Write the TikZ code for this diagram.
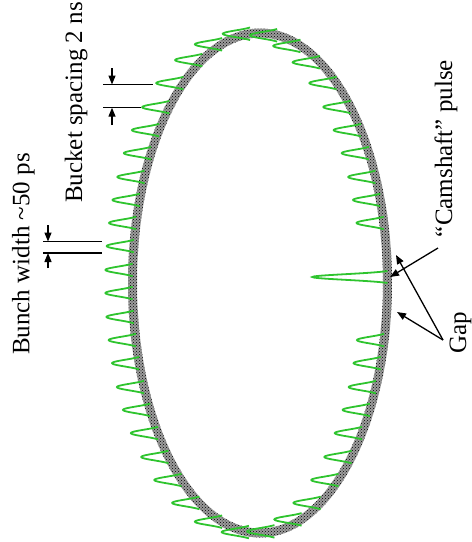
\documentclass[tikz,border=0pt]{standalone}
\usepackage{fontspec}
\setmainfont{Liberation Serif}
\usetikzlibrary{arrows.meta, patterns}
\definecolor{bunchgreen}{HTML}{2EC42E}
\definecolor{ringgray}{HTML}{9C9C9C}

\begin{document}
\begin{tikzpicture}[x=1pt, y=-1pt,
    lbl/.style={font=\fontsize{25}{30}\selectfont, rotate=90, inner sep=0pt, anchor=base},
    dim/.style={line width=1.3pt},
    tip/.style={-{Triangle[length=9pt, width=7pt]}, line width=1.3pt},
    bunch/.style={bunchgreen, line width=1.8pt}]
  \useasboundingbox (0,0) rectangle (472,542);

  % the ring
  \fill[ringgray, even odd rule] (260,283) ellipse [x radius=132, y radius=254.5]
    (260,283) ellipse [x radius=123, y radius=245.5];
  \fill[pattern=crosshatch dots, pattern color=black, even odd rule]
    (260,283) ellipse [x radius=132, y radius=254.5]
    (260,283) ellipse [x radius=123, y radius=245.5];

  % bunches, one per filled bucket
  \foreach \t in {94.5, 107.3, 116.9, 126.9, 135.3, 142.3, 148.7, 154.9, 160.6,
                  166.1, 171.5, 177, 182.3, 187.8, 193.2, 198.7, 204.6, 210.5,
                  216.9, 224.1, 232, 241.6, 252.7, 265,
                  82.3, 71.5, 62, 53.1, 44.75, 37.7, 31.3, 25.1, 19.4, 13.9,
                  346.8, 341.3, 335.4, 329.5, 323.1, 315.9, 308, 298.4, 289, 276.5}
    \draw[bunch] plot[variable=\s, domain=-6.3:6.3, samples=25, smooth]
      ({260+127.5*cos(\t)-33.1*(exp(-(\s/4.8)*(\s/4.8))-0.179)}, {283-250*sin(\t)+\s});

  % camshaft pulse in the gap
  \draw[bunch] plot[variable=\s, domain=-6:6, samples=25, smooth]
    ({387.5-84*(exp(-(\s/4)*(\s/4))-0.105)}, {277+\s});

  % labels
  \node[lbl] (bwlbl) at (29.5,254) {Bunch width \textasciitilde50 ps};
  \node[lbl] (bslbl) at (82,102.5) {Bucket spacing 2 ns};
  \node[lbl] (camlbl) at (452,148.5) {“Camshaft” pulse};
  \node[lbl] (gaplbl) at (466,333) {Gap};

  % bucket spacing
  \coordinate (bsA) at (103,84.5);   \coordinate (bsA') at (153,84.5);
  \coordinate (bsB) at (103,107.7);  \coordinate (bsB') at (141,107.7);
  \draw[dim] (bsA) -- (bsA');
  \draw[dim] (bsB) -- (bsB');
  \coordinate (bsin) at (112,68);    \coordinate (bsinto) at (112,84.5);
  \coordinate (bsout) at (112,125);  \coordinate (bsoutto) at (112,107.7);
  \draw[tip] (bsin) -- (bsinto);
  \draw[tip] (bsout) -- (bsoutto);

  % bunch width
  \coordinate (bwA) at (43,241.5);   \coordinate (bwA') at (102,241.5);
  \coordinate (bwB) at (43,253);     \coordinate (bwB') at (102,253);
  \draw[dim] (bwA) -- (bwA');
  \draw[dim] (bwB) -- (bwB');
  \coordinate (bwin) at (48,225);    \coordinate (bwinto) at (48,241.5);
  \coordinate (bwout) at (48,268);   \coordinate (bwoutto) at (48,253);
  \draw[tip] (bwin) -- (bwinto);
  \draw[tip] (bwout) -- (bwoutto);

  % leaders
  \coordinate (camfrom) at (438,248);  \coordinate (camto) at (390,277);
  \coordinate (gapfrom) at (443,340);
  \coordinate (gapA) at (396,255);     \coordinate (gapB) at (397,312);
  \draw[tip] (camfrom) -- (camto);
  \draw[tip] (gapfrom) -- (gapA);
  \draw[tip] (gapfrom) -- (gapB);
\end{tikzpicture}
\end{document}
